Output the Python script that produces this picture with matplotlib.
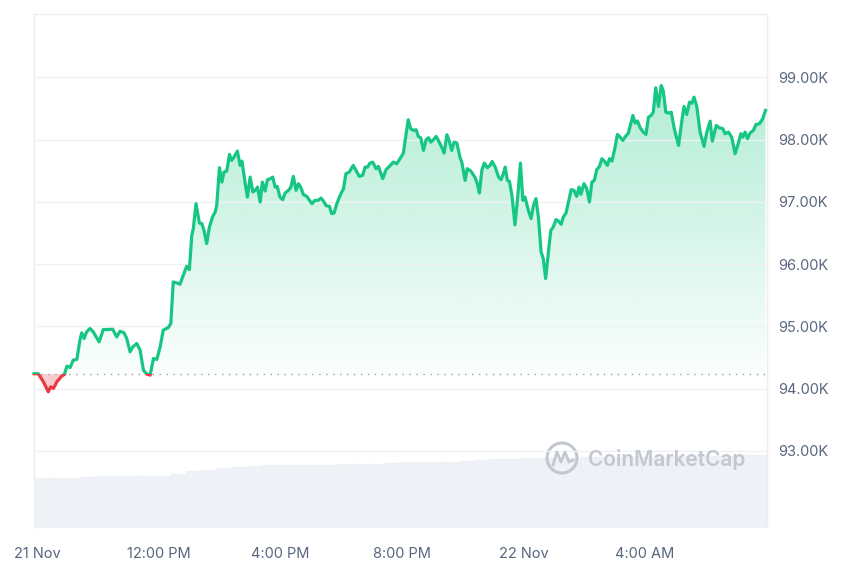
import matplotlib
matplotlib.use("Agg")
import matplotlib.pyplot as plt
from matplotlib.patches import Rectangle, Ellipse
from matplotlib.lines import Line2D
import numpy as np

# hours after the "21 Nov" tick, price in USD
hours = [-0.10, 0.04, 0.21, 0.37, 0.45, 0.54, 0.65, 0.81, 0.90, 0.98,
         1.09, 1.19, 1.31, 1.41, 1.47, 1.55, 1.63, 1.74, 1.85, 2.04,
         2.18, 2.35, 2.49, 2.62, 2.73, 2.86, 2.95, 3.06, 3.15, 3.28,
         3.39, 3.50, 3.61, 3.72, 3.83, 3.94, 4.05, 4.15, 4.32, 4.40,
         4.48, 4.60, 4.70, 4.81, 4.92, 5.01, 5.09, 5.14, 5.23, 5.34,
         5.42, 5.49, 5.58, 5.67, 5.78, 5.86, 5.91, 6.00, 6.08, 6.15,
         6.24, 6.33, 6.40, 6.48, 6.59, 6.68, 6.74, 6.84, 6.92, 7.01,
         7.10, 7.20, 7.25, 7.34, 7.41, 7.50, 7.58, 7.66, 7.75, 7.83,
         7.90, 7.99, 8.08, 8.16, 8.27, 8.35, 8.43, 8.52, 8.60, 8.68,
         8.76, 8.87, 9.04, 9.14, 9.25, 9.34, 9.42, 9.51, 9.62, 9.69,
         9.77, 9.86, 9.97, 10.08, 10.16, 10.27, 10.40, 10.49, 10.60, 10.71,
         10.79, 10.87, 10.95, 11.04, 11.15, 11.23, 11.37, 11.48, 11.61, 11.72,
         11.83, 11.94, 12.05, 12.14, 12.21, 12.29, 12.38, 12.47, 12.54, 12.62,
         12.71, 12.80, 12.88, 12.95, 13.04, 13.13, 13.20, 13.31, 13.39, 13.48,
         13.56, 13.64, 13.72, 13.81, 13.91, 13.97, 14.08, 14.15, 14.27, 14.41,
         14.48, 14.55, 14.63, 14.71, 14.81, 14.90, 14.97, 15.07, 15.18, 15.26,
         15.34, 15.40, 15.47, 15.54, 15.62, 15.72, 15.81, 15.90, 15.98, 16.05,
         16.16, 16.25, 16.33, 16.41, 16.49, 16.58, 16.65, 16.73, 16.82, 16.90,
         16.98, 17.07, 17.15, 17.24, 17.31, 17.40, 17.48, 17.57, 17.66, 17.75,
         17.83, 17.89, 17.99, 18.08, 18.17, 18.25, 18.33, 18.41, 18.50, 18.58,
         18.66, 18.76, 18.83, 18.91, 19.01, 19.09, 19.18, 19.27, 19.34, 19.45,
         19.53, 19.60, 19.67, 19.75, 19.84, 19.94, 20.03, 20.11, 20.20, 20.27,
         20.35, 20.44, 20.53, 20.60, 20.68, 20.77, 20.86, 20.96, 21.10, 21.21,
         21.28, 21.37, 21.46, 21.54, 21.61, 21.70, 21.81, 21.94, 22.03, 22.14,
         22.21, 22.34, 22.44, 22.56, 22.63, 22.74, 22.85, 22.96, 23.07, 23.15,
         23.21, 23.29, 23.37, 23.45, 23.56, 23.65, 23.76, 23.87, 23.96]
price = [94240, 94240, 94109, 93949, 94029, 94003, 94109, 94201, 94228, 94361,
         94340, 94457, 94469, 94778, 94896, 94806, 94912, 94966, 94912, 94751,
         94950, 94950, 94955, 94831, 94923, 94896, 94806, 94591, 94671, 94725,
         94618, 94297, 94233, 94217, 94485, 94469, 94671, 94939, 94982, 95046,
         95714, 95698, 95677, 95822, 95966, 95913, 96464, 96571, 96972, 96661,
         96652, 96544, 96330, 96597, 96769, 96838, 96945, 97550, 97319, 97480,
         97496, 97764, 97667, 97720, 97817, 97587, 97656, 97319, 97078, 97399,
         97159, 97197, 97239, 96998, 97319, 97175, 97358, 97370, 97399, 97239,
         97250, 97078, 97037, 97143, 97186, 97239, 97411, 97186, 97293, 97229,
         97117, 97090, 96972, 97025, 97025, 97062, 97014, 96940, 96929, 96812,
         96822, 96972, 97106, 97213, 97454, 97480, 97587, 97507, 97411, 97427,
         97560, 97560, 97624, 97640, 97534, 97571, 97374, 97518, 97582, 97640,
         97614, 97695, 97785, 98096, 98321, 98176, 98149, 98160, 98053, 98032,
         97828, 98000, 98032, 97961, 98000, 98053, 97988, 97881, 97785, 98080,
         97977, 97828, 97961, 97945, 97720, 97640, 97346, 97534, 97496, 97390,
         97293, 97143, 97507, 97624, 97550, 97587, 97651, 97560, 97399, 97358,
         97454, 97560, 97346, 97330, 97105, 96632, 97078, 97624, 97025, 97078,
         96865, 96732, 96945, 97053, 96757, 96196, 96090, 95769, 96196, 96544,
         96597, 96716, 96693, 96640, 96757, 96822, 96998, 97197, 97186, 97090,
         97239, 97122, 97293, 97213, 96998, 97319, 97346, 97518, 97571, 97695,
         97656, 97587, 97695, 97656, 97871, 98085, 98041, 97988, 98041, 98106,
         98256, 98390, 98266, 98301, 98189, 98122, 98085, 98362, 98390, 98443,
         98834, 98534, 98871, 98780, 98443, 98427, 98443, 98176, 97908, 98309,
         98534, 98406, 98603, 98587, 98683, 98534, 98122, 97892, 98122, 98298,
         97977, 98229, 98192, 98176, 98096, 98122, 98041, 97775, 97945, 98096,
         98041, 98122, 98016, 98106, 98149, 98245, 98256, 98337, 98470]
open_price = 94240

# rolling 24h volume, billions USD, half-hour steps (left edge of each step)
vol_hours = np.arange(0, 24, 0.5) - 0.10
volume = [71.9, 71.9, 71.9, 72.5, 74.8, 74.8, 74.8, 74.8, 74.8, 77.0,
          81.0, 83.5, 86.5, 87.7, 88.5, 90.5, 90.8, 90.8, 90.8, 90.8,
          91.0, 91.2, 91.5, 93.5, 94.5, 94.7, 94.9, 95.0, 95.3, 97.5,
          98.3, 98.8, 100.2, 100.5, 100.5, 100.8, 101.0, 101.2, 101.5, 101.7,
          102.0, 102.2, 102.6, 103.0, 103.3, 103.6, 104.0, 104.4]

tick_hours = [0, 4, 8, 12, 16, 20]
tick_labels = ["21 Nov", "12:00 PM", "4:00 PM", "8:00 PM", "22 Nov", "4:00 AM"]
price_ticks = [93000, 94000, 95000, 96000, 97000, 98000, 99000]

GREEN = "#16c784"
RED = "#ea3943"
TXT = "#58667e"

plt.rcParams["font.family"] = ["Inter", "DejaVu Sans"]

fig = plt.figure(figsize=(8.6, 5.73), dpi=100)
ax = fig.add_axes([34 / 860, 1 - 528 / 573, (767 - 34) / 860, (528 - 14) / 573])

hrs = np.array(hours)
p = np.array(price, dtype=float)
x0, x1 = -0.10, 24.01
y0, y1 = 91760, 100020

# volume on a twin axis (bars overlap a little so the last one reaches the edge)
ax2 = ax.twinx()
ax2.bar(vol_hours, volume, width=0.62, align="edge", color="#eef1f5", edgecolor="#ebeef2",
        linewidth=0.2, zorder=1)
ax2.set_ylim(0, max(volume) * 514 / 73)
ax2.set_yticks([])
for s in ax2.spines.values():
    s.set_visible(False)

# green area with vertical gradient
poly = ax.fill_between(hrs, np.maximum(p, open_price), open_price, facecolor="none",
                       edgecolor="none")
grad = np.zeros((256, 1, 4))
grad[:, 0, :3] = matplotlib.colors.to_rgb(GREEN)
grad[:, 0, 3] = np.linspace(0.02, 0.36, 256)
im = ax.imshow(grad, extent=[x0, x1, open_price, 99300], origin="lower", aspect="auto",
               zorder=0.3)
im.set_clip_path(poly.get_paths()[0], transform=ax.transData)

# red area below open
ax.fill_between(hrs, np.minimum(p, open_price), open_price, color=RED, alpha=0.25,
                linewidth=0, zorder=0.3)

# line, green above open, red below
up, = ax.plot(hrs, p, color=GREEN, lw=2.3, zorder=3, solid_joinstyle="round")
dn, = ax.plot(hrs, p, color=RED, lw=2.3, zorder=3, solid_joinstyle="round")
up.set_clip_path(Rectangle((x0 - 1, open_price), 30, 20000, transform=ax.transData))
dn.set_clip_path(Rectangle((x0 - 1, open_price - 20000), 30, 20000, transform=ax.transData))

ax.axhline(open_price, color="#9aa0aa", lw=1.0, ls=(0, (1, 4)), zorder=2)

ax.set_xlim(x0, x1)
ax.set_ylim(y0, y1)
ax.set_yticks(price_ticks)
ax.set_yticklabels([f"{v / 1000:.2f}K" for v in price_ticks])
ax.yaxis.tick_right()
ax.set_xticks(tick_hours)
ax.set_xticklabels(tick_labels)
ax.tick_params(axis="both", length=0, colors=TXT, labelsize=10.5)
ax.tick_params(axis="y", pad=8)
ax.tick_params(axis="x", pad=14)
ax.grid(axis="y", color="#eff1f4", lw=1.0)
ax.set_axisbelow("line")
for side in ["top", "left", "right"]:
    ax.spines[side].set_color("#eceef2")
    ax.spines[side].set_linewidth(1.0)
ax.spines["bottom"].set_visible(False)
ax.set_zorder(ax2.get_zorder() + 1)
ax.patch.set_visible(False)

# watermark
wm = "#c3c8d0"
fig.add_artist(Ellipse((562 / 860, 1 - 458 / 573), 30 / 860, 30 / 573, transform=fig.transFigure,
                       facecolor="none", edgecolor=wm, lw=2.2))
mx = np.array([553, 557, 561, 565, 569, 573]) / 860
my = 1 - np.array([465, 452, 462, 452, 462, 460]) / 573
fig.add_artist(Line2D(mx, my, transform=fig.transFigure, color=wm, lw=2.0))
fig.text(588 / 860, 1 - 460 / 573, "CoinMarketCap", color=wm, fontsize=15,
         fontweight="semibold", va="center", ha="left")

fig.savefig("out.png", dpi=100)
